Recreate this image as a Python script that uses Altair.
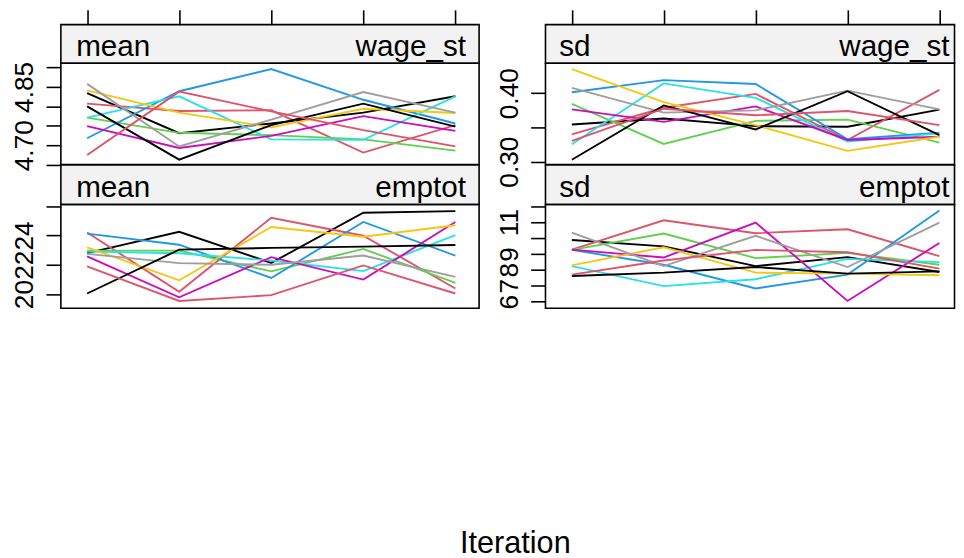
import json
import altair as alt
import pandas as pd

iterations = [1, 2, 3, 4, 5]
chain_ids = [str(i) for i in range(1, 11)]
chain_colors = ["#000000", "#DF536B", "#61D04F", "#2297E6", "#28E2E5",
                "#CD0BBC", "#F5C710", "#9E9E9E", "#000000", "#DF536B"]
stat_labels = ["mean", "sd"]
var_labels = ["wage_st", "emptot"]

mean_wage_st = [
    [4.834, 4.731, 4.756, 4.784, 4.826],
    [4.807, 4.788, 4.790, 4.681, 4.752],
    [4.771, 4.732, 4.726, 4.715, 4.686],
    [4.718, 4.839, 4.896, 4.817, 4.756],
    [4.771, 4.826, 4.715, 4.714, 4.826],
    [4.749, 4.693, 4.724, 4.775, 4.737],
    [4.841, 4.784, 4.746, 4.794, 4.783],
    [4.858, 4.697, 4.766, 4.837, 4.784],
    [4.800, 4.663, 4.752, 4.807, 4.748],
    [4.675, 4.838, 4.787, 4.739, 4.697],
]
sd_wage_st = [
    [0.3543, 0.3630, 0.3519, 0.3510, 0.3760],
    [0.3399, 0.3788, 0.3990, 0.3317, 0.4048],
    [0.3846, 0.3260, 0.3596, 0.3615, 0.3279],
    [0.4014, 0.4192, 0.4135, 0.3327, 0.3423],
    [0.3255, 0.4144, 0.3933, 0.3293, 0.3413],
    [0.3764, 0.3582, 0.3808, 0.3317, 0.3365],
    [0.4351, 0.3870, 0.3534, 0.3159, 0.3365],
    [0.4077, 0.3716, 0.3750, 0.4038, 0.3764],
    [0.3029, 0.3822, 0.3471, 0.4029, 0.3389],
    [0.3303, 0.3774, 0.3678, 0.3740, 0.3534],
]
mean_emptot = [
    [22.79, 24.25, 22.13, 25.55, 25.66],
    [24.20, 20.16, 25.21, 23.98, 20.38],
    [22.97, 22.97, 21.55, 23.08, 20.76],
    [24.13, 23.37, 21.10, 24.92, 22.63],
    [22.90, 22.79, 22.29, 21.57, 24.02],
    [22.58, 19.78, 22.52, 20.99, 24.92],
    [23.19, 20.94, 24.58, 23.91, 24.70],
    [22.74, 22.11, 22.00, 22.63, 21.17],
    [20.04, 23.03, 23.15, 23.24, 23.35],
    [21.89, 19.53, 19.93, 21.96, 20.04],
]
sd_emptot = [
    [9.869, 9.476, 8.234, 8.793, 7.862],
    [9.269, 11.11, 10.30, 10.55, 8.855],
    [9.248, 10.28, 8.731, 9.062, 8.317],
    [9.248, 8.317, 6.827, 7.696, 11.73],
    [8.234, 6.972, 7.407, 8.689, 8.483],
    [9.269, 8.772, 10.97, 6.041, 9.683],
    [8.276, 9.414, 7.820, 7.758, 7.655],
    [10.34, 8.234, 10.14, 8.172, 10.97],
    [7.613, 7.820, 8.172, 7.758, 7.903],
    [7.696, 8.586, 9.248, 9.103, 8.069],
]

mean_wage_ticks = [4.65, 4.70, 4.75, 4.80, 4.85, 4.90]
mean_wage_shown = ["4.70", "4.85"]
sd_wage_ticks = [0.30, 0.35, 0.40]
sd_wage_shown = ["0.30", "0.40"]
mean_emp_ticks = [20, 22, 24, 26]
mean_emp_shown = ["20", "22", "24"]
sd_emp_ticks = [6, 7, 8, 9, 10, 11, 12]
sd_emp_shown = ["6", "7", "8", "9", "11"]

FONT = "Liberation Sans"
LEFT_W, RIGHT_W = 423.3, 414
XDOM_L = [0.7145, 5.2576]
XDOM_R = [0.7129, 5.1645]
STRIP_H1, PANEL_H1 = 39, 102.7
STRIP_H2, PANEL_H2 = 40, 105


def long_df(series):
    rows = []
    for cid, vals in zip(chain_ids, series):
        for it, v in zip(iterations, vals):
            rows.append({"chain": cid, "iter": it, "value": v})
    return pd.DataFrame(rows)


def make_panel(series, xdom, ydom, w, h, ticks, shown, fmt):
    expr = ("indexof(%s, format(datum.value, '%s')) >= 0 ? format(datum.value, '%s') : ''"
            % (json.dumps(shown), fmt, fmt))
    return alt.Chart(long_df(series)).mark_line(strokeWidth=1.9).encode(
        x=alt.X("iter:Q", scale=alt.Scale(domain=xdom, nice=False, zero=False), axis=None),
        y=alt.Y("value:Q", scale=alt.Scale(domain=ydom, nice=False, zero=False),
                axis=alt.Axis(values=ticks, labelExpr=expr, tickSize=15, tickWidth=1.6,
                              tickColor="black", domain=False, grid=False, labelAngle=270,
                              labelAlign="center", labelBaseline="alphabetic",
                              labelPadding=13.5, labelFontSize=26.5, labelFont=FONT,
                              labelColor="black", labelOverlap=False, labelFlush=False,
                              labelBound=False, title=None)),
        color=alt.Color("chain:N", scale=alt.Scale(domain=chain_ids, range=chain_colors),
                        legend=None),
        detail="chain:N",
        order="iter:Q",
    ).properties(width=w, height=h)


def make_strip(stat, var, xdom, w, h, top_ticks, lx, rx):
    if top_ticks:
        ax = alt.Axis(orient="top", values=iterations, labels=False, domain=False,
                      grid=False, ticks=True, tickSize=15, tickWidth=1.6,
                      tickColor="black", title=None)
    else:
        ax = None
    base = alt.Chart(pd.DataFrame({"iter": iterations})).mark_point(opacity=0).encode(
        x=alt.X("iter:Q", scale=alt.Scale(domain=xdom, nice=False, zero=False), axis=ax)
    )
    txt = pd.DataFrame({"stat": [stat], "var": [var]})
    left_t = alt.Chart(txt).mark_text(align="left", baseline="alphabetic", fontSize=30,
                                      font=FONT, color="black").encode(
        x=alt.value(lx), y=alt.value(h - 7.3), text="stat:N")
    right_t = alt.Chart(txt).mark_text(align="right", baseline="alphabetic", fontSize=30,
                                       font=FONT, color="black").encode(
        x=alt.value(rx), y=alt.value(h - 7.3), text="var:N")
    return alt.layer(base, left_t, right_t).properties(
        width=w, height=h,
        view=alt.ViewBackground(fill="#F2F2F2", stroke="black", strokeWidth=1.6))


s11 = make_strip(stat_labels[0], var_labels[0], XDOM_L, LEFT_W, STRIP_H1, True, 15.5, 410)
s12 = make_strip(stat_labels[1], var_labels[0], XDOM_R, RIGHT_W, STRIP_H1, True, 14, 409)
s21 = make_strip(stat_labels[0], var_labels[1], XDOM_L, LEFT_W, STRIP_H2, False, 15.5, 410)
s22 = make_strip(stat_labels[1], var_labels[1], XDOM_R, RIGHT_W, STRIP_H2, False, 14, 409)

p11 = make_panel(mean_wage_st, XDOM_L, [4.65, 4.91118], LEFT_W, PANEL_H1,
                 mean_wage_ticks, mean_wage_shown, ".2f")
p12 = make_panel(sd_wage_st, XDOM_R, [0.29567, 0.44387], RIGHT_W, PANEL_H1,
                 sd_wage_ticks, sd_wage_shown, ".2f")
p21 = make_panel(mean_emptot, XDOM_L, [19.036, 26.1146], LEFT_W, PANEL_H2,
                 mean_emp_ticks, mean_emp_shown, "d")
p22 = make_panel(sd_emptot, XDOM_R, [5.584, 12.1056], RIGHT_W, PANEL_H2,
                 sd_emp_ticks, sd_emp_shown, "d")

col1 = alt.vconcat(s11, p11, s21, p21, spacing=0, bounds="flush")
col2 = alt.vconcat(s12, p12, s22, p22, spacing=0, bounds="flush")

chart = alt.hconcat(col1, col2, spacing=14.5).properties(
    title=alt.TitleParams("Iteration", orient="bottom", anchor="middle", fontSize=31,
                          font=FONT, fontWeight="normal", color="black",
                          baseline="alphabetic", offset=246, dx=32.5),
    padding={"left": 2.5, "top": -3.5, "right": 0, "bottom": 0},
    background="white",
).configure_view(stroke="black", strokeWidth=1.6)

chart.save("out.html", embed_options={"renderer": "svg", "actions": False})
